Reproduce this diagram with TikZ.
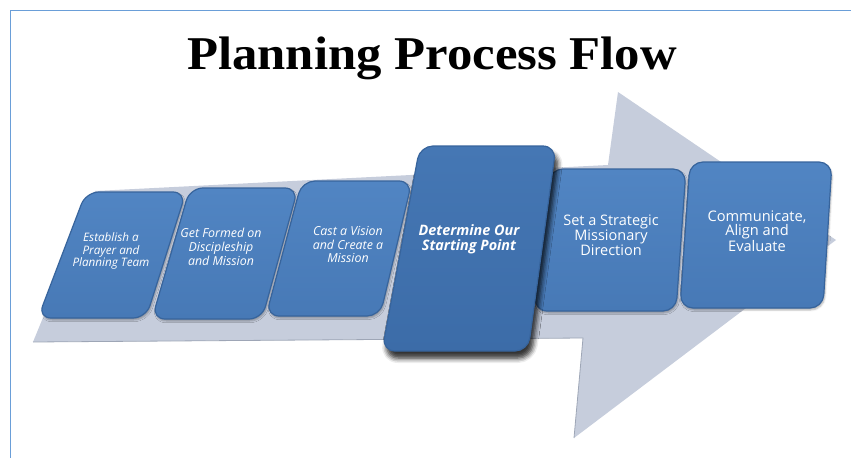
\documentclass[tikz,border=0pt]{standalone}
\usepackage{graphicx}
\usepackage{fontspec}
\newfontfamily\titlefont{Liberation Serif}
\newfontfamily\cardfont{Open Sans}
\usetikzlibrary{shadows.blur}
\definecolor{frameblue}{HTML}{6A9ED8}
\definecolor{arrowgrey}{HTML}{C6CDDC}
\definecolor{arrowedge}{HTML}{9EA6B6}
\definecolor{cardtop}{HTML}{5185C3}
\definecolor{cardblue}{HTML}{4779B6}
\definecolor{cardedge}{HTML}{37649C}
\definecolor{keytop}{HTML}{4577B4}
\definecolor{keyblue}{HTML}{3C6CA8}
\tikzset{
	card/.style={top color=cardtop, bottom color=cardblue, draw=cardedge, line width=1.2pt, rounded corners=13pt,
			blur shadow={shadow xshift=1pt, shadow yshift=-2pt, shadow blur steps=4, shadow opacity=30}},
	keycard/.style={card, top color=keytop, bottom color=keyblue,
			blur shadow={shadow xshift=3pt, shadow yshift=-7pt, shadow blur radius=5pt, shadow opacity=55}},
	steptext/.style={text=white, align=center, inner sep=0pt}
}

\begin{document}
\begin{tikzpicture}[x=1pt, y=-1pt]
	\useasboundingbox (0,0) rectangle (852,458);
	% frame
	\draw[frameblue, line width=1pt] (10,458) -- (10,10) -- (851,10);

	\node[font=\titlefont\bfseries\fontsize{47}{52}\selectfont, anchor=base] (title) at (432,69) {\scalebox{1.08}[1]{Planning Process Flow}};

	% big arrow
	\fill[arrowgrey] (33,342) -- (95,191) -- (608,165) -- (618,92) -- (836,240) -- (574,438) -- (583,338) -- cycle;
	\draw[arrowedge, line width=0.8pt] (33,342) -- (583,338) -- (574,438);

	% cards
	\draw[card] (38,318) -- (86,192) -- (186,192) -- (146,318) -- cycle;
	\draw[card] (152,319) -- (190,188) -- (298,188) -- (262,319) -- cycle;
	\draw[card] (266,316) -- (302,181) -- (412,181) -- (380,316) -- cycle;
	\draw[card] (534,311) -- (550,169) -- (686,169) -- (676,311) -- cycle;
	\draw[card] (680,308) -- (690,162) -- (832,162) -- (823,308) -- cycle;
	\draw[keycard] (382,351) -- (420,146) -- (556,146) -- (528,351) -- cycle;

	\node[steptext, font=\cardfont\itshape\fontsize{11.7}{12.5}\selectfont] (s1) at (111,251) {Establish a\\Prayer and\\Planning Team};
	\node[steptext, font=\cardfont\itshape\fontsize{12.4}{14}\selectfont] (s2) at (221,247) {Get Formed on\\Discipleship\\and Mission};
	\node[steptext, font=\cardfont\itshape\fontsize{12.4}{13.5}\selectfont] (s3) at (348,245) {Cast a Vision\\and Create a\\Mission};
	\node[steptext, font=\cardfont\bfseries\itshape\fontsize{14.4}{15}\selectfont] (s4) at (469,239) {Determine Our\\Starting Point};
	\node[steptext, font=\cardfont\fontsize{14.5}{15}\selectfont] (s5) at (611,235) {Set a Strategic\\Missionary\\Direction};
	\node[steptext, font=\cardfont\fontsize{14.6}{14.5}\selectfont] (s6) at (757,231) {Communicate,\\Align and\\Evaluate};
\end{tikzpicture}
\end{document}
